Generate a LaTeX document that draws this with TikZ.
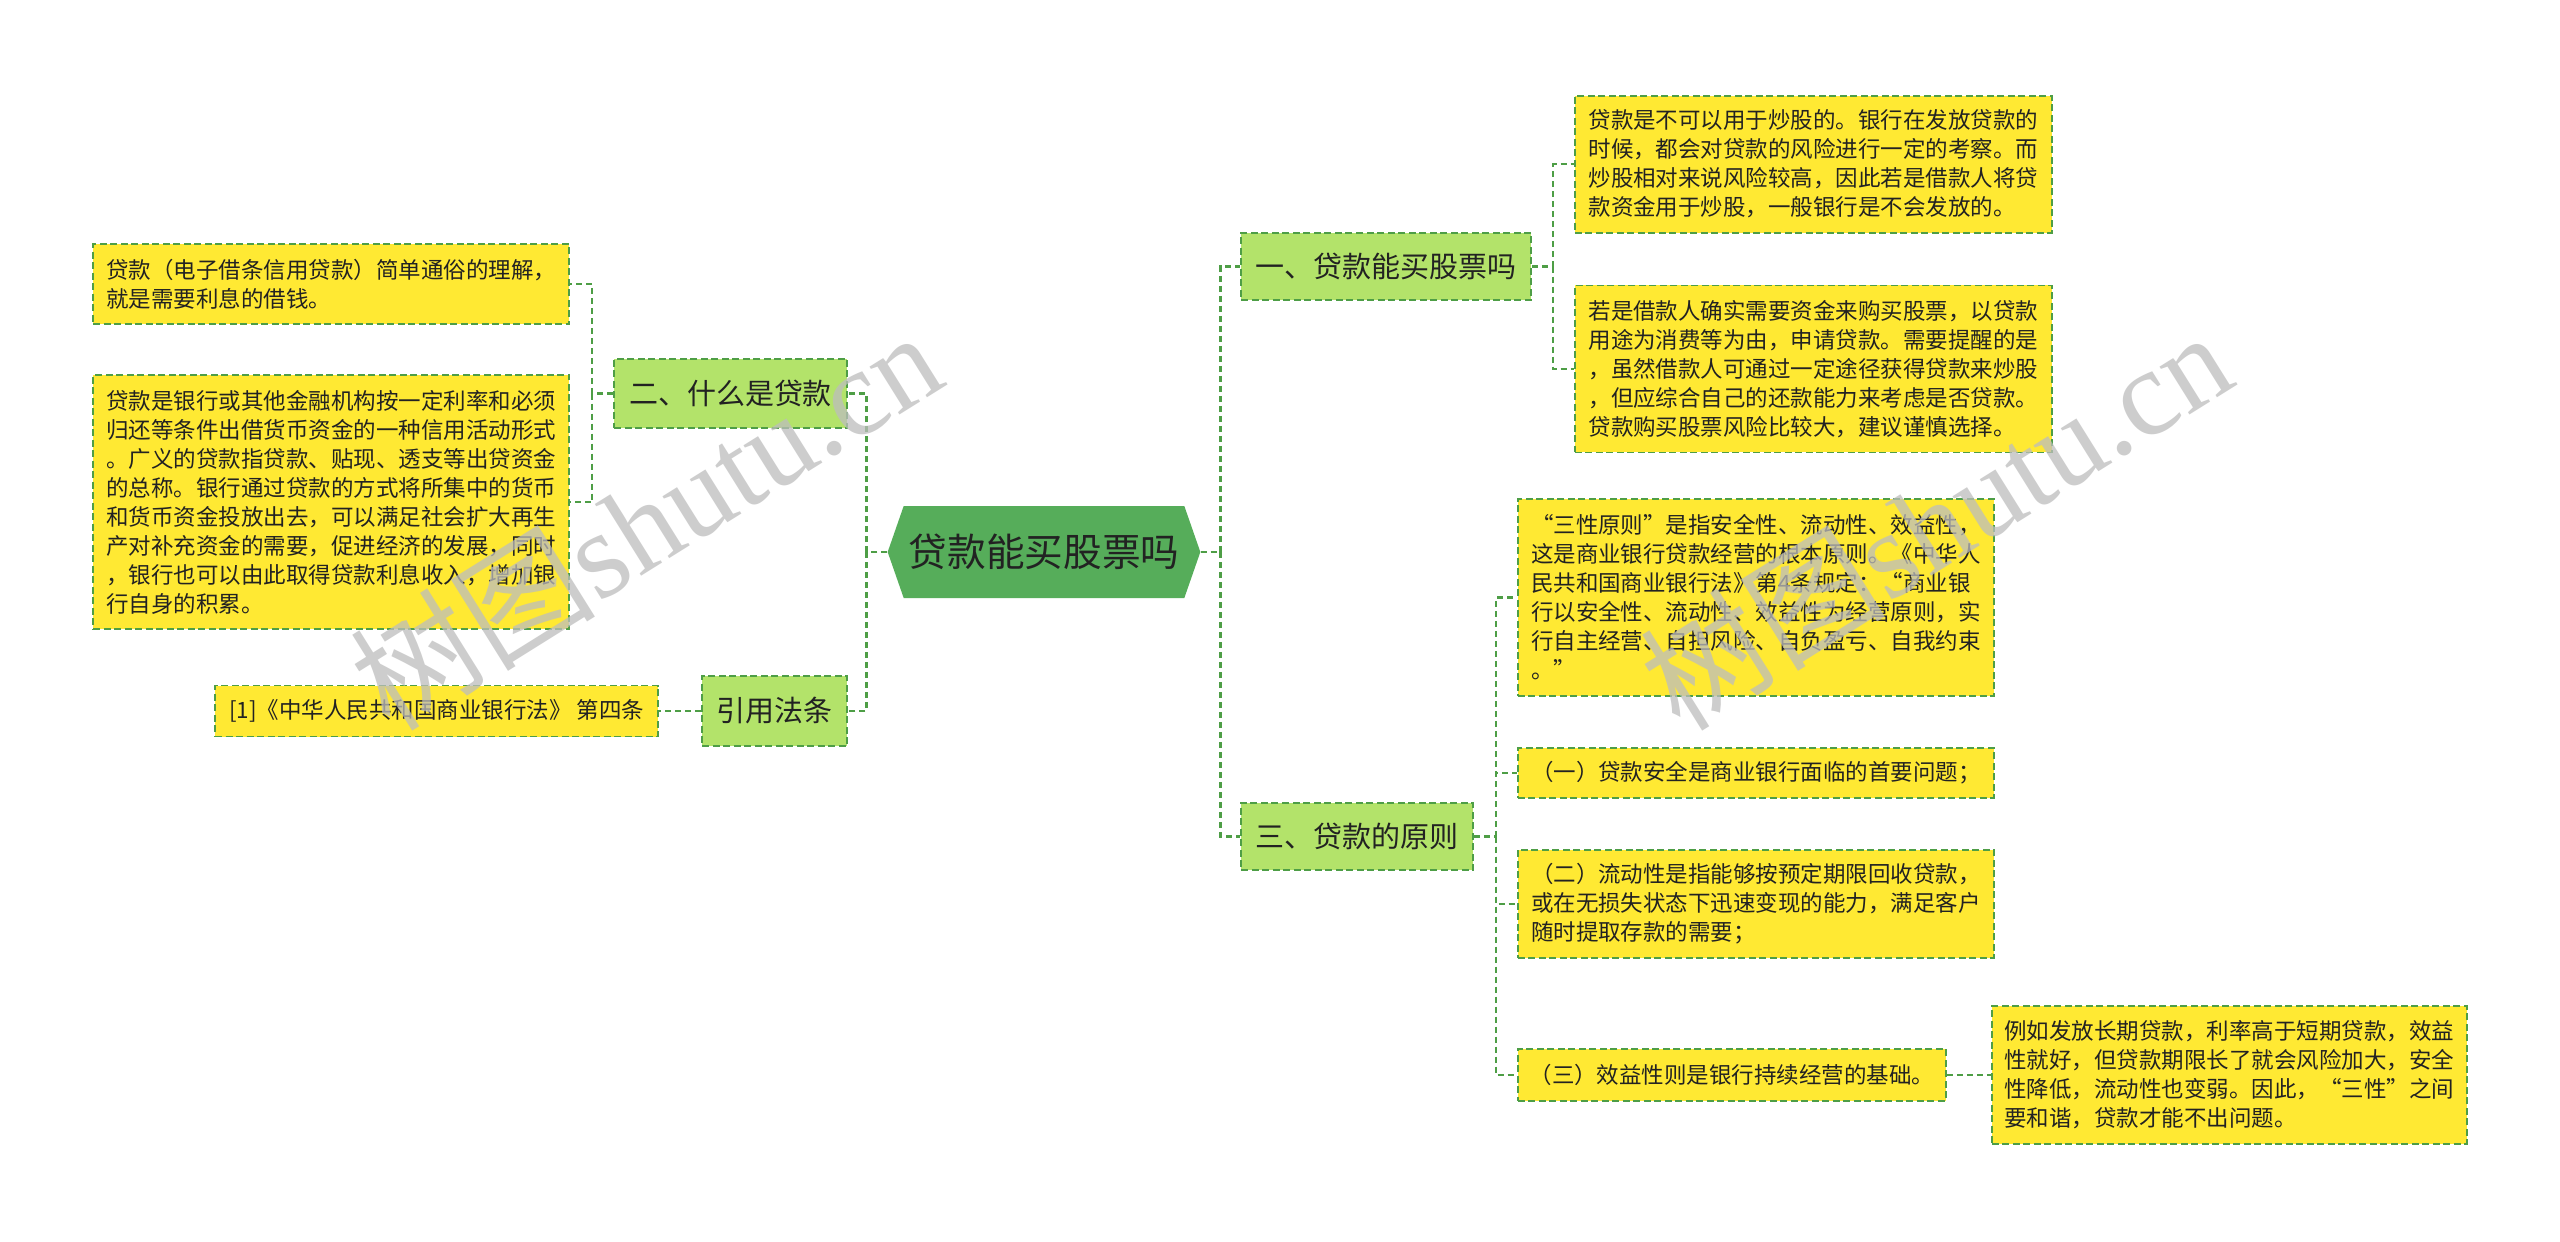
\documentclass[tikz,border=0pt]{standalone}
\usepackage{fontspec}
\setmainfont{Noto Sans CJK SC}
\newfontfamily\marklatin{Liberation Serif}
\usepackage{tikz}
\usetikzlibrary{positioning,shapes.symbols}

\definecolor{rootgreen}{HTML}{56AD5A}
\definecolor{topicgreen}{HTML}{B3E36A}
\definecolor{leafyellow}{HTML}{FFE933}
\definecolor{edgegreen}{HTML}{4E9E46}
\definecolor{inkdark}{HTML}{222222}
\definecolor{markgray}{HTML}{BDBDBD}

\begin{document}
\begin{tikzpicture}[
    node distance=0.84cm and 0.84cm,
    rootbox/.style={signal, signal to=west and east, signal pointer angle=141.6, fill=rootgreen, text=inkdark, minimum width=6.24cm, minimum height=1.84cm, inner sep=0.1cm, font=\fontsize{22}{26}\selectfont},
    topicbox/.style={draw=edgegreen, line width=1.1pt, dash pattern=on 0.14cm off 0.07cm, fill=topicgreen, text=inkdark, minimum height=1.34cm, inner sep=0.1cm, font=\fontsize{16.5}{20}\selectfont},
    leafbox/.style={draw=edgegreen, line width=1.1pt, dash pattern=on 0.14cm off 0.07cm, fill=leafyellow, text=inkdark, align=left, minimum width=9.52cm, inner sep=0.1cm, font=\fontsize{12.8}{16.5}\selectfont},
    conn/.style={draw=edgegreen, line width=1.4pt, dash pattern=on 0.12cm off 0.08cm},
    watermark/.style={text=markgray, text opacity=0.75, rotate=32, font=\fontsize{70}{70}\selectfont}
]
\path[use as bounding box, fill=white] (0,0) rectangle (51.2,-24.82);

\node[rootbox] (root) at (20.88,-11.04) {贷款能买股票吗};
\node[topicbox, minimum width=5.80cm] (buy) at (27.72,-5.33) {一、贷款能买股票吗};
\node[topicbox, minimum width=4.66cm, minimum height=1.38cm] (what) at (14.61,-7.87) {二、什么是贷款};
\node[topicbox, minimum width=4.64cm] (rules) at (27.14,-16.73) {三、贷款的原则};
\node[topicbox, minimum width=2.90cm, minimum height=1.40cm] (cite) at (15.49,-14.22) {引用法条};

% left side
\node[leafbox, minimum height=1.60cm, above left=1.37cm and 0.86cm of what.west] (def1) {贷款（电子借条信用贷款）简单通俗的理解，\\就是需要利息的借钱。};
\node[leafbox, minimum height=5.08cm, below=0.98cm of def1] (def2) {贷款是银行或其他金融机构按一定利率和必须\\归还等条件出借货币资金的一种信用活动形式\\。广义的贷款指贷款、贴现、透支等出贷资金\\的总称。银行通过贷款的方式将所集中的货币\\和货币资金投放出去，可以满足社会扩大再生\\产对补充资金的需要，促进经济的发展，同时\\，银行也可以由此取得贷款利息收入，增加银\\行自身的积累。};
\node[leafbox, minimum width=8.86cm, minimum height=1.02cm, left=0.84cm of cite] (law) {[1]《中华人民共和国商业银行法》 第四条};

% right side
\node[leafbox, minimum width=9.54cm, minimum height=2.74cm, above right=0.66cm and 0.84cm of buy.east] (buya) {贷款是不可以用于炒股的。银行在发放贷款的\\时候，都会对贷款的风险进行一定的考察。而\\炒股相对来说风险较高，因此若是借款人将贷\\款资金用于炒股，一般银行是不会发放的。};
\node[leafbox, minimum width=9.54cm, minimum height=3.34cm, below right=0.36cm and 0.84cm of buy.east] (buyb) {若是借款人确实需要资金来购买股票，以贷款\\用途为消费等为由，申请贷款。需要提醒的是\\，虽然借款人可通过一定途径获得贷款来炒股\\，但应综合自己的还款能力来考虑是否贷款。\\贷款购买股票风险比较大，建议谨慎选择。};

\node[leafbox, minimum height=3.94cm, above right=2.79cm and 0.86cm of rules.east] (rule0) {“三性原则”是指安全性、流动性、效益性，\\这是商业银行贷款经营的根本原则。《中华人\\民共和国商业银行法》第4条规定：“商业银\\行以安全性、流动性、效益性为经营原则，实\\行自主经营、自担风险、自负盈亏、自我约束\\。”};
\node[leafbox, minimum height=1.00cm, below=1.0cm of rule0] (rule1) {（一）贷款安全是商业银行面临的首要问题；};
\node[leafbox, minimum height=2.16cm, below=1.0cm of rule1] (rule2) {（二）流动性是指能够按预定期限回收贷款，\\或在无损失状态下迅速变现的能力，满足客户\\随时提取存款的需要；};
\node[leafbox, minimum width=8.56cm, minimum height=1.04cm, below right=4.23cm and 0.86cm of rules.east] (rule3) {（三）效益性则是银行持续经营的基础。};
\node[leafbox, minimum width=9.50cm, minimum height=2.76cm, right=0.88cm of rule3] (rule3x) {例如发放长期贷款，利率高于短期贷款，效益\\性就好，但贷款期限长了就会风险加大，安全\\性降低，流动性也变弱。因此，“三性”之间\\要和谐，贷款才能不出问题。};

% connectors
\draw[conn] (root.west) -- ++(-0.42,0) coordinate (lfork);
\draw[conn] (lfork) |- (what.east);
\draw[conn] (lfork) |- (cite.east);
\draw[conn] (root.east) -- ++(0.40,0) coordinate (rfork);
\draw[conn] (rfork) |- (buy.west);
\draw[conn] (rfork) |- (rules.west);

\draw[conn] (what.west) -- ++(-0.42,0) coordinate (whatfork);
\draw[conn] (whatfork) |- (def1.east);
\draw[conn] (whatfork) |- (def2.east);
\draw[conn] (cite) -- (law);

\draw[conn] (buy.east) -- ++(0.42,0) coordinate (buyfork);
\draw[conn] (buyfork) |- (buya.west);
\draw[conn] (buyfork) |- (buyb.west);

\draw[conn] (rules.east) -- ++(0.44,0) coordinate (rulefork);
\draw[conn] (rulefork) |- (rule0.west);
\draw[conn] (rulefork) |- (rule1.west);
\draw[conn] (rulefork) |- (rule2.west);
\draw[conn] (rulefork) |- (rule3.west);
\draw[conn] (rule3) -- (rule3x);

% watermarks
\node[watermark] (markl) at (12.9,-10.38) {树图{\marklatin shutu.cn}};
\node[watermark] (markr) at (38.7,-10.38) {树图{\marklatin shutu.cn}};
\end{tikzpicture}
\end{document}
